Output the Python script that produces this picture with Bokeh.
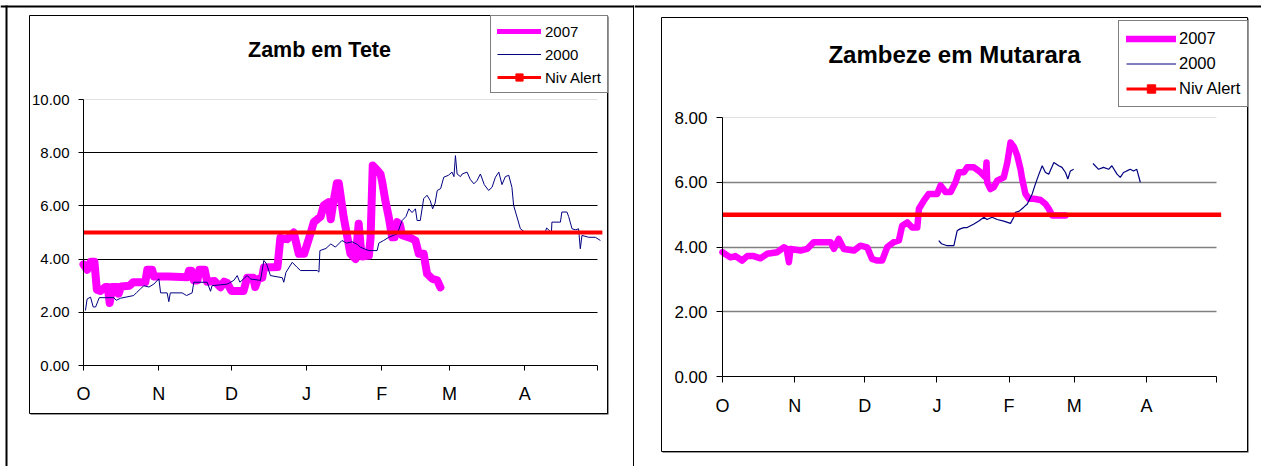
import numpy as np
from bokeh.plotting import figure
from bokeh.layouts import row
from bokeh.models import (Range1d, FixedTicker, PrintfTickFormatter, Grid,
                          Legend, LegendItem, Label)
from bokeh.embed import file_html
from bokeh.resources import INLINE

NAN = float("nan")

# ---------------- data ----------------
month_start_day = [0, 31, 61, 92, 123, 151, 182, 212]
month_label = ["O", "N", "D", "J", "F", "M", "A", ""]
series_label = ["2007", "2000", "Niv Alert"]

tete_title = "Zamb em Tete"
tete_yticks = [0, 2, 4, 6, 8, 10]
tete_2007_day = [0, 1.5, 3, 4.5, 5.5, 7, 9, 10, 10.8, 11.8, 14, 14.5, 15.5, 19, 20.5, 25.5,
                 26.3, 28.3, 29, 35, 42.8, 43.5, 44.5, 45.5, 47, 47.8, 50, 51, 54, 56.5, 58,
                 59.3, 61, 66, 67.5, 70, 70.8, 72, 73.7, 74.4, 80, 81.2, 84, 86.7, 88.8, 91,
                 93.6, 95, 97.8, 99.1, 101, 102, 103, 104.5, 105.3, 107.3, 110.1, 112.2,
                 113.5, 114.3, 115, 117.7, 118.4, 119.3, 121.1, 122.5, 123.2, 124.5, 125.9,
                 127.3, 128.3, 129.4, 130.5, 131.4, 134.8, 136.9, 138.3, 140.3, 141, 141.7,
                 143.8, 145.9, 147.2]
tete_2007_lvl = [3.8, 3.6, 3.9, 3.9, 2.85, 2.8, 2.95, 2.95, 2.35, 2.95, 2.95, 2.7, 2.97, 3.0,
                 3.13, 3.13, 3.6, 3.6, 3.35, 3.35, 3.32, 3.56, 3.56, 3.2, 3.2, 3.6, 3.6, 3.15,
                 3.18, 2.94, 3.15, 3.1, 2.8, 2.8, 3.3, 3.3, 2.95, 3.25, 3.3, 3.68, 3.7, 4.8,
                 4.75, 5.0, 4.2, 4.2, 4.95, 5.39, 5.6, 6.02, 6.14, 5.5, 6.1, 6.85, 6.85, 5.58,
                 4.2, 4.0, 5.33, 4.5, 4.1, 4.13, 4.8, 7.52, 7.35, 7.2, 6.9, 6.2, 5.58, 4.82,
                 4.82, 5.39, 5.3, 4.9, 4.8, 4.7, 4.2, 4.2, 3.82, 3.45, 3.26, 3.2, 2.94]
tete_2000_day = [0.8, 1.5, 2.9, 4, 5, 6.5, 12.5, 13.5, 15.3, 20.7, 22, 23.5, 24.9, 27, 29,
                 31.1, 31.8, 34.5, 35.2, 35.8, 40.7, 42.5, 44.8, 45.5, 51, 52.4, 53, 59.3,
                 62, 63.4, 64.5, 67.5, 69, 73, 74.4, 75.5, 77.1, 82, 82.6, 83.5, 86.1, 88,
                 89.5, 96.4, 97.1, 97.5, 100, 102, 103.9, 106.6, 108.5, 110.8, 113, 114.2,
                 116, 117.7, 121.1, 121.8, 123.8, 125.9, 129.4, 131.4, 133, 134.2, 135.5,
                 136.9, 137.6, 138.9, 140.3, 141.7, 143, 144, 145, 145.9, 147.3, 148.6,
                 150.5, 152, 152.8, 153.4, 154.1, 155.5, 156.2, 158.2, 159.5, 161, 162.3,
                 163.7, 165.3, 167.1, 168.5, 169.9, 171.3, 172.6, 174, 175.4, 176.7, 177.4,
                 178.8, 180.2, 181.5, 183.6, 186.4, 190.5, 191, 193, 193.2, 196.7, 197.3,
                 199.4, 200.1, 201.5, 203, 204.2, 204.9, 205.6, 208.4, 211.1, 213.2]
tete_2000_lvl = [2.07, 2.5, 2.57, 2.2, 2.2, 2.55, 2.55, 2.45, 2.53, 2.63, 2.75, 2.88, 3.0,
                 2.95, 3.06, 3.26, 2.73, 2.73, 2.4, 2.73, 2.73, 2.63, 2.73, 3.13, 3.13, 2.79,
                 3.0, 3.06, 3.2, 3.38, 3.13, 3.38, 3.25, 3.2, 3.95, 3.82, 3.38, 3.3, 3.13,
                 3.5, 3.88, 3.7, 3.57, 3.57, 3.51, 4.32, 4.4, 4.57, 4.45, 4.7, 4.6, 4.65,
                 4.55, 4.45, 4.38, 4.32, 4.32, 4.6, 4.7, 4.82, 4.95, 5.45, 5.6, 5.89, 5.75,
                 5.89, 5.45, 5.45, 6.27, 6.4, 6.2, 5.89, 6.1, 6.58, 6.65, 7.08, 7.15, 7.27,
                 7.1, 7.89, 7.2, 7.1, 7.2, 7.27, 7.0, 6.83, 6.95, 7.2, 6.8, 6.58, 6.7, 7.08,
                 7.27, 6.8, 7.1, 7.15, 6.7, 6.02, 5.58, 5.14, 5.05, 4.98, 5.02, 5.02, 5.17,
                 5.0, 5.39, 5.39, 5.77, 5.77, 5.6, 5.14, 5.1, 5.14, 4.39, 4.89, 4.82, 4.82,
                 4.7]
tete_alert_day = [0, 214]
tete_alert_lvl = [5.0, 5.0]

mut_title = "Zambeze em Mutarara"
mut_yticks = [0, 2, 4, 6, 8]
mut_2007_day = [0, 0.6, 3.4, 5.6, 8.4, 10.6, 13.4, 16.3, 19.2, 23.5, 26.3, 27.5, 28.5, 29.2,
                33.5, 36.3, 39.2, 43.5, 46.4, 47.8, 49.9, 52.1, 56.4, 59.2, 62.1, 64.2, 66.4,
                68.5, 70.7, 73.5, 75.7, 77.1, 79.3, 81.4, 83.6, 84.3, 86.4, 88.5, 92.1, 93.6,
                95.7, 97.9, 100, 101.4, 103.6, 105, 107.9, 110.7, 112.9, 113.3, 113.6, 115,
                116.4, 117.9, 120.7, 122.2, 123.6, 125, 126.5, 127.9, 128.6, 130, 131.5,
                133.6, 136.5, 138.6, 140, 141.5, 145.1, 147.2]
mut_2007_lvl = [3.84, 3.81, 3.68, 3.72, 3.58, 3.72, 3.72, 3.65, 3.79, 3.84, 3.99, 3.95, 3.53,
                3.94, 3.89, 3.94, 4.15, 4.15, 4.15, 3.94, 4.25, 3.94, 3.89, 4.04, 3.99, 3.63,
                3.58, 3.58, 4.0, 4.15, 4.2, 4.66, 4.76, 4.6, 4.6, 5.18, 5.43, 5.64, 5.64, 5.9,
                5.7, 5.7, 6.0, 6.31, 6.31, 6.46, 6.46, 6.31, 6.15, 6.61, 6.0, 5.79, 5.85, 6.05,
                6.15, 6.6, 7.23, 7.1, 6.82, 6.4, 6.1, 5.64, 5.49, 5.49, 5.45, 5.33, 5.18, 4.97,
                4.97, 4.97]
mut_2000_day = [92.8, 94, 96.4, 99.3, 100.7, 102, 103.6, 105, 107.9, 110, 112.2, 113.5,
                115.7, 117.9, 120.7, 123.6, 125, 125.7, 127.2, 129.3, 130.8, 132.9, 134.3,
                135.8, 137.2, 138.6, 140, 142.2, 144.3, 145.7, 147.2, 148.2, 149.3, 150.7,
                155, 159, 161.4, 163.5, 165.7, 167.1, 169.3, 170.7, 172.1, 173.5, 175,
                176.4, 177.8, 179.3]
mut_2000_lvl = [4.2, 4.1, 4.04, 4.04, 4.5, 4.56, 4.6, 4.6, 4.71, 4.8, 4.92, 4.85, 4.92, 4.85,
                4.8, 4.73, 4.92, 5.07, 5.1, 5.23, 5.33, 5.64, 5.95, 6.25, 6.51, 6.3, 6.25,
                6.61, 6.51, 6.46, 6.3, 6.1, 6.35, 6.4, NAN, 6.58, 6.4, 6.46, 6.4, 6.51, 6.25,
                6.15, 6.3, 6.35, 6.4, 6.35, 6.4, 6.0]
mut_alert_day = [0, 214]
mut_alert_lvl = [5.0, 5.0]

# ---------------- layout / style ----------------
FONT = "Liberation Sans"
PAGE_TOP, PAGE_BOTTOM = 0, 466
H = PAGE_BOTTOM - PAGE_TOP
C07, C00, CAL = "#ff00ff", "#000080", "#ff0000"

left_cfg = dict(page_x0=0, page_x1=634, axis_x=83, axis_x_end=597, axis_y=365, axis_y_top=99,
                box=(29, 15, 607, 413),
                table_lines=[(0, 6, 634, 6), (6, 5, 6, 466), (633.5, 5, 633.5, 466)],
                grid_color="#000000", grid_width=1,
                title_x=319, title_base=49, title_size="21.5px",
                ylabel_size="15px", ylabel_standoff=9, ytick_out=5,
                xlabel_size="18px", xlabel_standoff=13, xtick_out=5,
                w07=8, w00=1, wa=4,
                leg_left=490, leg_top=17, leg_pad=6, leg_item=18, leg_spacing=5,
                leg_glyph_w=44, leg_standoff=4, leg_font="15px", leg_w07=5)
right_cfg = dict(page_x0=634, page_x1=1261, axis_x=722, axis_x_end=1216, axis_y=376, axis_y_top=117,
                 box=(661, 17, 1247, 451),
                 table_lines=[(634, 6, 1261, 6)],
                 grid_color="#808080", grid_width=1.5,
                 title_x=954, title_base=54, title_size="24px",
                 ylabel_size="17px", ylabel_standoff=9, ytick_out=6,
                 xlabel_size="18px", xlabel_standoff=13, xtick_out=6,
                 w07=6.5, w00=1.2, wa=4.5,
                 leg_left=1118, leg_top=22, leg_pad=7, leg_item=21, leg_spacing=4,
                 leg_glyph_w=50, leg_standoff=3, leg_font="16.5px", leg_w07=6.5)

tete = dict(title=tete_title, yticks=tete_yticks, d07=tete_2007_day, v07=tete_2007_lvl,
            d00=tete_2000_day, v00=tete_2000_lvl, da=tete_alert_day, va=tete_alert_lvl)
mut = dict(title=mut_title, yticks=mut_yticks, d07=mut_2007_day, v07=mut_2007_lvl,
           d00=mut_2000_day, v00=mut_2000_lvl, da=mut_alert_day, va=mut_alert_lvl)


def build(c, d):
    xmax = month_start_day[-1]
    ymax = d["yticks"][-1]
    x0 = c["axis_x"]
    kx = (c["axis_x_end"] - x0) / xmax
    y0 = c["axis_y"]
    ky = (y0 - c["axis_y_top"]) / ymax
    dx = lambda px: (px - x0) / kx
    dy = lambda py: (y0 - py) / ky
    W = c["page_x1"] - c["page_x0"]
    p = figure(width=W, height=H,
               x_range=Range1d(dx(c["page_x0"]), dx(c["page_x1"])),
               y_range=Range1d(dy(PAGE_BOTTOM), dy(PAGE_TOP)),
               toolbar_location=None, output_backend="svg", min_border=0,
               outline_line_color=None)
    p.background_fill_color = "white"
    p.border_fill_color = "white"

    # table borders
    for (xa, ya, xb, yb) in c["table_lines"]:
        p.segment(x0=[dx(xa)], y0=[dy(ya)], x1=[dx(xb)], y1=[dy(yb)],
                  line_color="black", line_width=2)
    # chart box (with thin shadow)
    bx0, by0, bx1, by1 = c["box"]
    p.quad(left=[dx(bx0 + 1)], right=[dx(bx1 + 1)], top=[dy(by0 + 1)], bottom=[dy(by1 + 1)],
           fill_color="#333333", line_color=None, level="image")
    p.quad(left=[dx(bx0)], right=[dx(bx1)], top=[dy(by0)], bottom=[dy(by1)],
           fill_color="white", line_color="black", line_width=1, level="image")

    # grids
    p.xgrid.visible = False
    g = p.ygrid[0]
    g.ticker = FixedTicker(ticks=d["yticks"][1:-1])
    g.grid_line_color = c["grid_color"]
    g.grid_line_width = c["grid_width"]
    g2 = Grid(dimension=1, ticker=FixedTicker(ticks=[ymax]), grid_line_color="#e2e2e2",
              grid_line_width=1)
    g.cross_bounds = (0, xmax)
    g2.cross_bounds = (0, xmax)
    p.add_layout(g2)

    # axes
    ax = p.xaxis[0]
    ax.fixed_location = 0
    ax.bounds = (0, xmax)
    ax.ticker = FixedTicker(ticks=month_start_day)
    ax.major_label_overrides = {t: l for t, l in zip(month_start_day, month_label)}
    ax.minor_tick_line_color = None
    ax.major_tick_in = 0
    ax.major_tick_out = c["xtick_out"]
    ax.major_tick_line_color = "black"
    ax.axis_line_color = "black"
    ax.major_label_text_font = FONT
    ax.major_label_text_font_size = c["xlabel_size"]
    ax.major_label_text_color = "black"
    ax.major_label_standoff = c["xlabel_standoff"]

    ay = p.yaxis[0]
    ay.fixed_location = 0
    ay.bounds = (0, ymax)
    ay.ticker = FixedTicker(ticks=d["yticks"])
    ay.formatter = PrintfTickFormatter(format="%.2f")
    ay.minor_tick_line_color = None
    ay.major_tick_in = 0
    ay.major_tick_out = c["ytick_out"]
    ay.major_tick_line_color = "black"
    ay.axis_line_color = "black"
    ay.major_label_text_font = FONT
    ay.major_label_text_font_size = c["ylabel_size"]
    ay.major_label_text_color = "black"
    ay.major_label_standoff = c["ylabel_standoff"]

    # series
    p.line(np.array(d["d07"], dtype=float), np.array(d["v07"], dtype=float),
           line_color=C07, line_width=c["w07"], line_join="round", line_cap="round")
    p.line(np.array(d["d00"], dtype=float), np.array(d["v00"], dtype=float),
           line_color=C00, line_width=c["w00"])
    p.line(np.array(d["da"], dtype=float), np.array(d["va"], dtype=float),
           line_color=CAL, line_width=c["wa"])

    # legend samples (styled swatches only, no drawn data)
    l07 = p.line(x=[NAN], y=[NAN], line_color=C07, line_width=c["leg_w07"], line_cap="round")
    l00 = p.line(x=[NAN], y=[NAN], line_color=C00, line_width=1)
    la = p.line(x=[NAN], y=[NAN], line_color=CAL, line_width=3)
    lm = p.scatter(x=[NAN], y=[NAN], marker="square", size=5, fill_color=CAL, line_color=CAL)
    pad, item, sp = c["leg_pad"], c["leg_item"], c["leg_spacing"]
    lh = 2 * pad + 3 * item + 2 * sp
    leg = Legend(items=[LegendItem(label=series_label[0], renderers=[l07]),
                        LegendItem(label=series_label[1], renderers=[l00]),
                        LegendItem(label=series_label[2], renderers=[la, lm])],
                 location=(c["leg_left"] - c["page_x0"], H - (c["leg_top"] - PAGE_TOP) - lh),
                 orientation="vertical", padding=pad, spacing=sp, margin=0,
                 glyph_width=c["leg_glyph_w"], glyph_height=item, label_height=item,
                 label_standoff=c["leg_standoff"], label_text_font=FONT,
                 label_text_font_size=c["leg_font"], label_text_color="black",
                 border_line_color="black", border_line_width=1,
                 background_fill_color="white", background_fill_alpha=1.0)
    p.add_layout(leg)

    # title
    p.add_layout(Label(x=dx(c["title_x"]), y=dy(c["title_base"]), text=d["title"],
                       text_align="center", text_baseline="alphabetic", text_font=FONT,
                       text_font_style="bold", text_font_size=c["title_size"],
                       text_color="black"))
    return p


p1 = build(left_cfg, tete)
p2 = build(right_cfg, mut)
layout = row(p1, p2, spacing=0)
open("out.html", "w").write(file_html(layout, INLINE, "Zambeze"))
